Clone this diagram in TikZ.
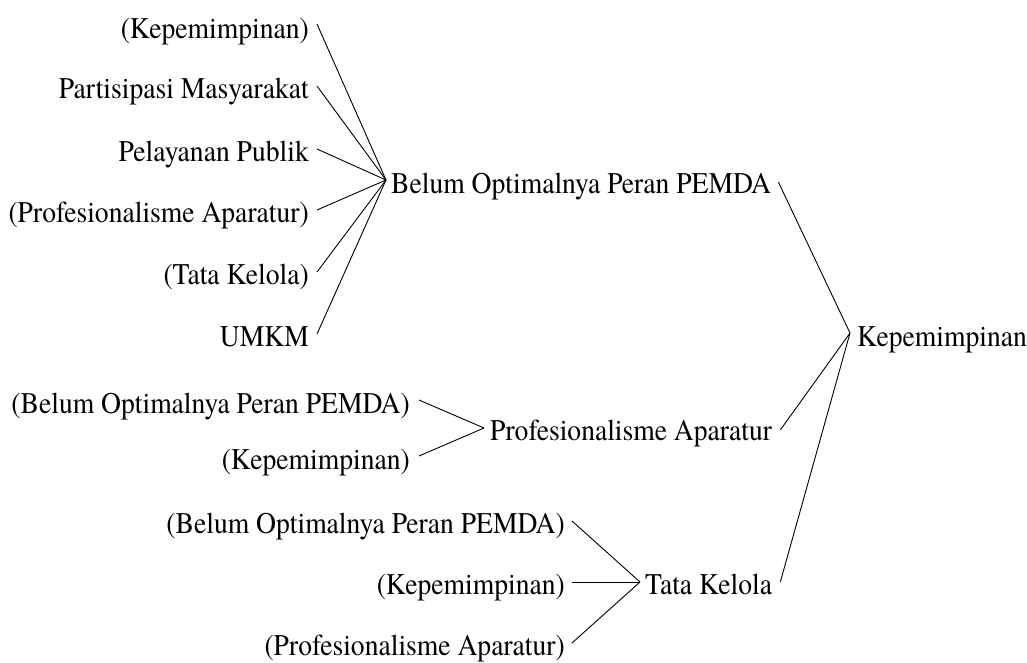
\documentclass[tikz,border=0pt]{standalone}
\usepackage{fontspec}
\setmainfont{TeX Gyre Termes}
\newfontfamily\treefont{TeX Gyre Termes}[FakeStretch=0.92]
\usetikzlibrary{calc}
\begin{document}
\begin{tikzpicture}[x=1pt,y=-1pt,
  lbl/.style={inner sep=0pt,font=\treefont\fontsize{30}{36}\selectfont},
  kid/.style={lbl,anchor=base east},
  par/.style={lbl,anchor=base west},
  link/.style={line width=0.9pt,black}]
\useasboundingbox (0,0) rectangle (1027,662);

% root
\node[par] (root) at (857,346) {Kepemimpinan};

% first branch
\node[par] (b) at (391,193) {Belum Optimalnya Peran PEMDA};
\node[kid] (b1) at (309,38)  {(Kepemimpinan)};
\node[kid] (b2) at (309,98)  {Partisipasi Masyarakat};
\node[kid] (b3) at (309,161) {Pelayanan Publik};
\node[kid] (b4) at (309,222) {(Profesionalisme Aparatur)};
\node[kid] (b5) at (309,284) {(Tata Kelola)};
\node[kid] (b6) at (309,346) {UMKM};

% second branch
\node[par] (p) at (490,440) {Profesionalisme Aparatur};
\node[kid] (p1) at (410,413) {(Belum Optimalnya Peran PEMDA)};
\node[kid] (p2) at (410,469) {(Kepemimpinan)};

% third branch
\node[par] (t) at (645,594) {Tata Kelola};
\node[kid] (t1) at (565,533) {(Belum Optimalnya Peran PEMDA)};
\node[kid] (t2) at (565,594) {(Kepemimpinan)};
\node[kid] (t3) at (565,655) {(Profesionalisme Aparatur)};

% connectors
\coordinate (rootin) at ($(root.base west)+(-7,-13)$);
\coordinate (bin) at ($(b.base west)+(-5,-13)$);
\coordinate (pin) at ($(p.base west)+(-6,-12)$);
\coordinate (tin) at ($(t.base west)+(-5,-12)$);

\draw[link] ($(b1.base east)+(8,-14)$) -- (bin);
\foreach \n in {b2,b3,b4,b5,b6}
  \draw[link] ($(\n.base east)+(8,-12)$) -- (bin);
\foreach \n in {p1,p2}
  \draw[link] ($(\n.base east)+(9,-13)$) -- (pin);
\foreach \n in {t1,t2,t3}
  \draw[link] ($(\n.base east)+(7,-12)$) -- (tin);
\draw[link] ($(b.base east)+(7,-11)$) -- (rootin);
\draw[link] ($(p.base east)+(8,-10)$) -- (rootin);
\draw[link] ($(t.base east)+(8,-12)$) -- (rootin);
\end{tikzpicture}
\end{document}
